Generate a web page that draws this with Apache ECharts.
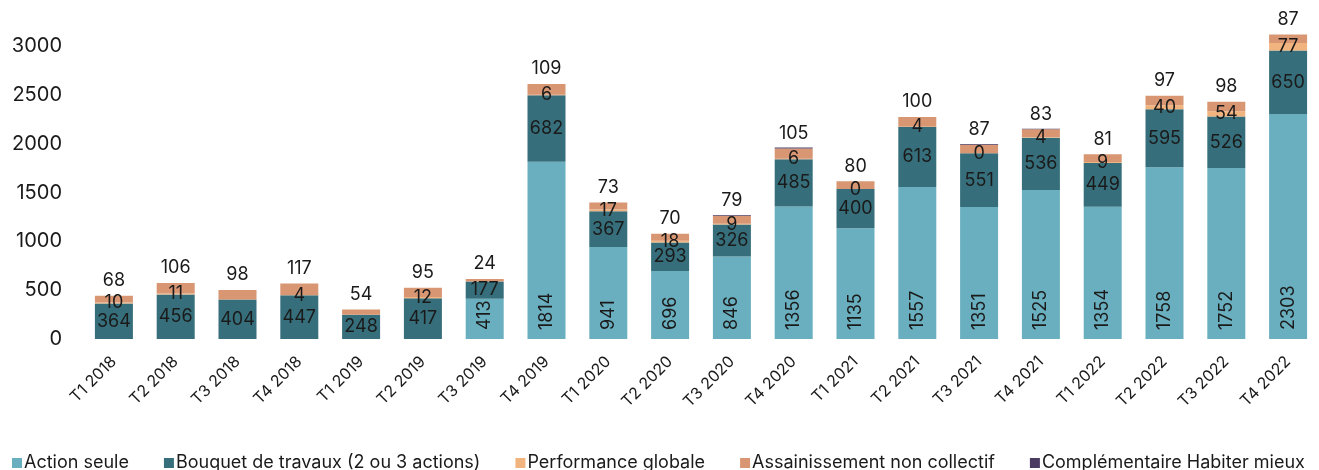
<!DOCTYPE html>
<html>
<head>
<meta charset="utf-8">
<title>Travaux par trimestre</title>
<script src="https://cdn.jsdelivr.net/npm/echarts@6/dist/echarts.min.js"></script>
<style>
  html, body { margin: 0; padding: 0; background: #fff; }
  #chart { width: 1319px; height: 470px; }
</style>
</head>
<body>
<div id="chart"></div>
<script>
// trimestres
const categories = [
  'T1 2018', 'T2 2018', 'T3 2018', 'T4 2018',
  'T1 2019', 'T2 2019', 'T3 2019', 'T4 2019',
  'T1 2020', 'T2 2020', 'T3 2020', 'T4 2020',
  'T1 2021', 'T2 2021', 'T3 2021', 'T4 2021',
  'T1 2022', 'T2 2022', 'T3 2022', 'T4 2022'
];

// valeurs
const actionSeule = [null, null, null, null, null, null, 413, 1814, 941, 696, 846, 1356, 1135, 1557, 1351, 1525, 1354, 1758, 1752, 2303];
const bouquet = [364, 456, 404, 447, 248, 417, 177, 682, 367, 293, 326, 485, 400, 613, 551, 536, 449, 595, 526, 650];
const performance = [10, 11, null, 4, null, 12, null, 6, 17, 18, 9, 6, 0, 4, 0, 4, 9, 40, 54, 77];
const assainissement = [68, 106, 98, 117, 54, 95, 24, 109, 73, 70, 79, 105, 80, 100, 87, 83, 81, 97, 98, 87];
// pas d'etiquette sur le graphique : estimation
const habiterMieux = [null, null, null, null, null, null, null, null, null, null, 6, 10, null, null, 8, 6, null, null, null, null];

const yTicks = { min: 0, max: 3200, step: 500 };

const font = 'Inter';
const labelStyle = { color: '#1a1a1a', fontFamily: font, fontSize: 18 };

const chart = echarts.init(document.getElementById('chart'));

function bar(name, data, color, label) {
  return {
    name,
    type: 'bar',
    stack: 'total',
    barWidth: 38,
    data,
    itemStyle: { color },
    label: Object.assign({ show: !!label }, labelStyle, label || {}),
  };
}

chart.setOption({
  animation: false,
  textStyle: { fontFamily: font },
  grid: { left: 83, width: 1245, top: 26.5, bottom: 131 },
  legend: {
    left: 7,
    top: 449,
    itemWidth: 10,
    itemHeight: 10,
    itemGap: 35,
    icon: 'rect',
    textStyle: { color: '#1a1a1a', fontFamily: font, fontSize: 18, padding: [0, 0, 0, -3] },
  },
  xAxis: {
    type: 'category',
    data: categories,
    axisLine: { show: false },
    axisTick: { show: false },
    axisLabel: {
      rotate: 45,
      interval: 0,
      margin: 20,
      color: '#1a1a1a',
      fontFamily: font,
      fontSize: 16,
    },
  },
  yAxis: {
    type: 'value',
    min: yTicks.min,
    max: yTicks.max,
    interval: yTicks.step,
    axisLine: { show: false },
    axisTick: { show: false },
    splitLine: { show: false },
    axisLabel: {
      showMaxLabel: false,
      margin: 21,
      color: '#1a1a1a',
      fontFamily: font,
      fontSize: 20,
      formatter: v => String(v),
    },
  },
  series: [
    bar('Action seule', actionSeule, '#6aafbf', {
      position: 'insideBottom', rotate: 90, align: 'left', verticalAlign: 'middle', distance: 9,
    }),
    bar('Bouquet de travaux (2 ou 3 actions)', bouquet, '#366f7b', { position: 'inside' }),
    bar('Performance globale', performance, '#f2b47e', { position: 'inside' }),
    bar('Assainissement non collectif', assainissement, '#d99672', { position: 'top', distance: 6 }),
    bar('Complémentaire Habiter mieux', habiterMieux, '#4b3a62', null),
  ],
});
</script>
</body>
</html>
